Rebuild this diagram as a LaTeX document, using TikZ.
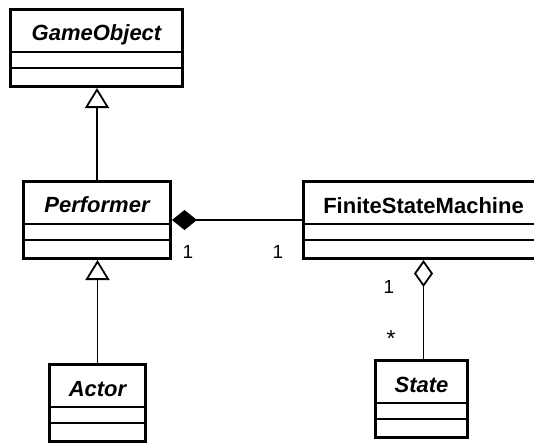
\documentclass[tikz,border=0pt]{standalone}
\usepackage{fontspec}
\setmainfont{Liberation Sans}
\usetikzlibrary{arrows.meta}
\tikzset{
  classbox/.style={draw, line width=3pt, fill=white, inner sep=0pt, minimum height=77pt},
  abstractname/.style={font=\bfseries\itshape\fontsize{22pt}{26pt}\selectfont, inner sep=0pt, anchor=base},
  concretename/.style={font=\bfseries\fontsize{22pt}{26pt}\selectfont, inner sep=0pt, anchor=base},
  compline/.style={line width=1.8pt},
  link/.style={line width=1.8pt},
  inherit/.style={link, -{Triangle[open, length=20pt, width=24pt, fill=white]}},
  composition/.style={link, {Diamond[length=25pt, width=20pt]}-},
  aggregation/.style={link, -{Diamond[open, length=27pt, width=19pt, fill=white]}},
  mult/.style={font=\fontsize{19pt}{22pt}\selectfont, inner sep=0pt, anchor=base}
}
% horizontal compartment separators of a class box
\newcommand{\compartments}[1]{%
  \draw[compline] ([yshift=-44pt]#1.north west) -- ([yshift=-44pt]#1.north east);
  \draw[compline] ([yshift=-60pt]#1.north west) -- ([yshift=-60pt]#1.north east);
}
\begin{document}
\begin{tikzpicture}[x=1pt, y=-1pt]
  \useasboundingbox (0,0) rectangle (534,442);
  \clip (0,0) rectangle (534,442);

  % classes
  \node[classbox, minimum width=172pt] (go) at (96.5,48) {};
  \node[classbox, minimum width=147pt] (perf) at (97,220) {};
  \node[classbox, minimum width=240pt] (fsm) at (423.5,220) {};
  \node[classbox, minimum width=96pt] (actor) at (97.5,403) {};
  \node[classbox, minimum width=92pt] (state) at (421.5,399) {};

  \compartments{go}
  \compartments{perf}
  \compartments{fsm}
  \compartments{actor}
  \compartments{state}

  \node[abstractname] (go-name) at ([yshift=-32pt]go.north) {GameObject};
  \node[abstractname] (perf-name) at ([yshift=-32pt]perf.north) {Performer};
  \node[concretename] (fsm-name) at ([yshift=-33pt]fsm.north) {FiniteStateMachine};
  \node[abstractname] (actor-name) at ([yshift=-33pt]actor.north) {Actor};
  \node[abstractname] (state-name) at ([yshift=-33pt]state.north) {State};

  % relations
  \draw[inherit] (perf.north) -- (perf.north |- go.south);
  \draw[inherit] (actor.north) -- (actor.north |- perf.south);
  \draw[composition] (perf.east) -- (fsm.west);
  \draw[aggregation] ([xshift=2pt]state.north) -- ([xshift=2pt]state.north |- fsm.south);

  % multiplicities
  \node[mult] (m-perf) at (188,258) {1};
  \node[mult] (m-fsm) at (278,258) {1};
  \node[mult] (m-agg) at (389,293) {1};
  \node[mult, font=\fontsize{23pt}{26pt}\selectfont] (m-state) at (391,346) {*};
\end{tikzpicture}
\end{document}
